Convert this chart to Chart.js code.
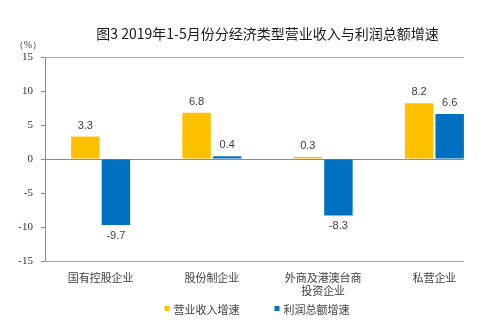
<!DOCTYPE html>
<html>
<head>
<meta charset="utf-8">
<script src="https://cdn.jsdelivr.net/npm/chart.js@4/dist/chart.umd.min.js"></script>
<style>
  html, body { margin: 0; padding: 0; background: #fff; }
</style>
</head>
<body>
<canvas id="myChart" width="495" height="327"></canvas>
<script>
const categories = ['国有控股企业', '股份制企业', ['外商及港澳台商', '投资企业'], '私营企业'];
const seriesNames = ['营业收入增速', '利润总额增速'];
const revenueGrowth = [3.3, 6.8, 0.3, 8.2];
const profitGrowth = [-9.7, 0.4, -8.3, 6.6];
const yMin = -15;
const yMax = 15;
const yStep = 5;
const titleText = '图3 2019年1-5月份分经济类型营业收入与利润总额增速';
const unitText = '（%）';

const cjkFont = '"Noto Sans CJK SC", sans-serif';
const serifFont = '"Liberation Serif", "Times New Roman", "DejaVu Serif", serif';

// top, zero and bottom lines, stopping where the last bar ends
const framePlugin = {
  id: 'frame',
  beforeDatasetsDraw(chart) {
    const ctx = chart.ctx;
    const area = chart.chartArea;
    const y = chart.scales.y;
    const meta = chart.getDatasetMeta(chart.data.datasets.length - 1);
    const last = meta.data[meta.data.length - 1];
    const right = Math.round(last.x + last.width / 2);
    const lines = [[yMax, '#a6a6a6'], [0, '#8c8c8c'], [yMin, '#a6a6a6']];
    ctx.save();
    ctx.lineWidth = 1;
    lines.forEach(([v, color]) => {
      const py = Math.round(y.getPixelForValue(v)) + 0.5;
      ctx.strokeStyle = color;
      ctx.beginPath();
      ctx.moveTo(area.left, py);
      ctx.lineTo(right, py);
      ctx.stroke();
    });
    ctx.restore();
  }
};

// value labels outside the bar ends
const valueLabels = {
  id: 'valueLabels',
  afterDatasetsDraw(chart) {
    const ctx = chart.ctx;
    ctx.save();
    ctx.font = '11px "Liberation Sans", Arial, sans-serif';
    ctx.fillStyle = '#404040';
    ctx.textAlign = 'center';
    ctx.textBaseline = 'middle';
    chart.data.datasets.forEach((ds, i) => {
      chart.getDatasetMeta(i).data.forEach((bar, j) => {
        const v = ds.data[j];
        const ty = v >= 0 ? bar.y - 11 : bar.y + 11;
        ctx.fillText(v.toFixed(1), bar.x, ty);
      });
    });
    ctx.restore();
  }
};

// title, unit label and legend
const extras = {
  id: 'extras',
  afterDraw(chart) {
    const ctx = chart.ctx;
    const area = chart.chartArea;
    ctx.save();
    ctx.fillStyle = '#1a1a1a';
    ctx.font = '14px ' + cjkFont;
    ctx.textAlign = 'center';
    ctx.textBaseline = 'middle';
    ctx.fillText(titleText, (area.left + area.right) / 2, 34);

    ctx.fillStyle = '#404040';
    ctx.font = '10px ' + serifFont;
    ctx.textAlign = 'right';
    ctx.fillText(unitText, 42, 45);

    ctx.font = '11px ' + cjkFont;
    ctx.textAlign = 'left';
    const gap = 35;
    const widths = seriesNames.map(n => 9 + ctx.measureText(n).width);
    const total = widths.reduce((a, b) => a + b, 0) + gap;
    let x = 257 - total / 2;
    const ly = 310;
    chart.data.datasets.forEach((ds, i) => {
      ctx.fillStyle = ds.backgroundColor;
      ctx.fillRect(x, ly - 4, 5, 5);
      ctx.fillStyle = '#404040';
      ctx.fillText(ds.label, x + 9, ly);
      x += widths[i] + gap;
    });
    ctx.restore();
  }
};

const ctx = document.getElementById('myChart');
const myChart = new Chart(ctx, {
  type: 'bar',
  data: {
    labels: categories,
    datasets: [
      { label: seriesNames[0], data: revenueGrowth, backgroundColor: '#FFC000' },
      { label: seriesNames[1], data: profitGrowth, backgroundColor: '#0070C0' }
    ]
  },
  options: {
    responsive: false,
    devicePixelRatio: 1,
    animation: false,
    categoryPercentage: 0.55,
    barPercentage: 0.93,
    layout: { padding: { top: 57, right: 5, left: 0, bottom: 0 } },
    plugins: {
      legend: { display: false },
      title: { display: false },
      tooltip: { enabled: false }
    },
    scales: {
      x: {
        grid: { display: false, drawTicks: false },
        border: { display: false },
        ticks: {
          color: '#404040',
          font: { family: cjkFont, size: 11 },
          padding: 10,
          maxRotation: 0,
          autoSkip: false
        },
        afterFit(scale) { scale.height = 66; }
      },
      y: {
        min: yMin,
        max: yMax,
        grid: { drawOnChartArea: false, drawTicks: true, tickLength: 4, color: '#8c8c8c' },
        border: { display: true, color: '#8c8c8c' },
        ticks: {
          stepSize: yStep,
          color: '#333',
          padding: 8,
          font: { family: serifFont, size: 11 }
        },
        afterFit(scale) { scale.width = 45; }
      }
    }
  },
  plugins: [framePlugin, valueLabels, extras]
});
</script>
</body>
</html>
